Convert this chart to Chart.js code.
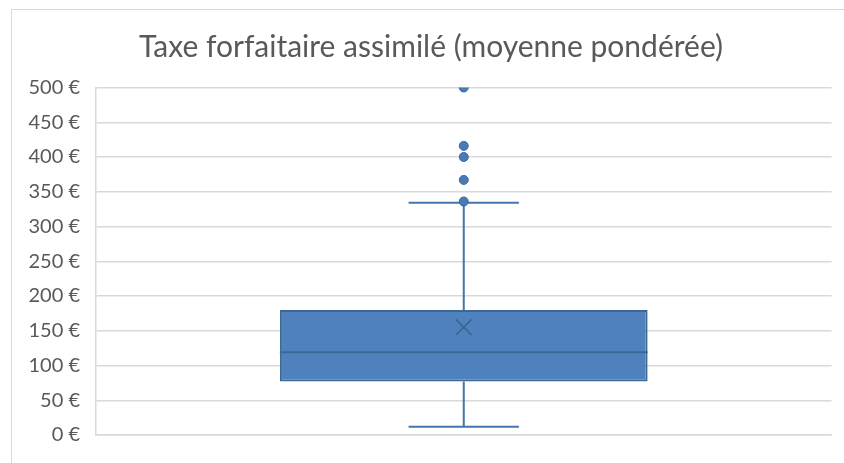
<!DOCTYPE html>
<html lang="fr">
<head>
  <meta charset="UTF-8" />
  <title>Taxe forfaitaire assimilé</title>
  <script src="https://cdn.jsdelivr.net/npm/chart.js"></script>
  <style>
    * { margin: 0; padding: 0; box-sizing: border-box; }
    body { background: white; width: 844px; height: 463px; overflow: hidden; }
    .wrap { position: relative; width: 844px; height: 463px; }
    .frame {
      position: absolute;
      left: 11px;
      top: 9px;
      width: 900px;
      height: 500px;
      border-top: 1px solid #d9d9d9;
      border-left: 1px solid #d9d9d9;
    }
    canvas { position: absolute; left: 0; top: 0; }
  </style>
</head>
<body>
  <div class="wrap">
    <div class="frame"></div>
    <canvas id="boxChart" width="844" height="463"></canvas>
  </div>

<script>
  // valeurs (en euros)
  const categories = ['Taxe forfaitaire'];
  const quartile1 = 77;
  const quartile3 = 180;
  const mediane = 119;
  const moyenne = 155;
  const moustacheBas = 12;
  const moustacheHaut = 334;
  const valeursAberrantes = [336, 367, 400, 416, 500];
  const yTicks = [0, 50, 100, 150, 200, 250, 300, 350, 400, 450, 500];

  const bleu = '#4f81bd';
  const bleuFonce = '#3c6898';

  // mediane + moustaches, dessinees juste apres la boite
  const boxExtras = {
    id: 'boxExtras',
    afterDatasetDraw(chart, args) {
      if (args.index !== 0) return;
      const bar = chart.getDatasetMeta(0).data[0];
      const y = chart.scales.y;
      const ctx = chart.ctx;
      const half = bar.width / 2;
      const cap = bar.width * 0.15;
      ctx.save();
      ctx.strokeStyle = bleuFonce;
      ctx.lineWidth = 2;
      ctx.beginPath();
      // mediane
      ctx.moveTo(bar.x - half, y.getPixelForValue(mediane));
      ctx.lineTo(bar.x + half, y.getPixelForValue(mediane));
      ctx.stroke();
      ctx.strokeStyle = '#4675ad';
      ctx.beginPath();
      // moustache haute
      ctx.moveTo(bar.x, y.getPixelForValue(quartile3));
      ctx.lineTo(bar.x, y.getPixelForValue(moustacheHaut));
      ctx.moveTo(bar.x - cap, y.getPixelForValue(moustacheHaut));
      ctx.lineTo(bar.x + cap, y.getPixelForValue(moustacheHaut));
      // moustache basse
      ctx.moveTo(bar.x, y.getPixelForValue(quartile1));
      ctx.lineTo(bar.x, y.getPixelForValue(moustacheBas));
      ctx.moveTo(bar.x - cap, y.getPixelForValue(moustacheBas));
      ctx.lineTo(bar.x + cap, y.getPixelForValue(moustacheBas));
      ctx.stroke();
      ctx.restore();
    }
  };

  const ctx = document.getElementById('boxChart').getContext('2d');
  new Chart(ctx, {
    type: 'bar',
    data: {
      labels: categories,
      datasets: [
        {
          // la boite (Q1 -> Q3), dessinee en premier
          type: 'bar',
          order: 3,
          data: [[quartile1, quartile3]],
          backgroundColor: bleu,
          borderColor: bleuFonce,
          borderWidth: 2,
          borderSkipped: false,
          barPercentage: 0.5,
          categoryPercentage: 1
        },
        {
          type: 'line',
          order: 2,
          data: valeursAberrantes.map(v => ({ x: categories[0], y: v })),
          showLine: false,
          pointRadius: 4.5,
          pointBackgroundColor: '#4a7ab6',
          pointBorderColor: bleuFonce,
          pointBorderWidth: 1
        },
        {
          type: 'line',
          order: 1,
          data: [{ x: categories[0], y: moyenne }],
          showLine: false,
          pointStyle: 'crossRot',
          pointRadius: 11,
          pointBackgroundColor: 'rgba(0,0,0,0)',
          pointBorderColor: '#38628f',
          pointBorderWidth: 1.5
        }
      ]
    },
    options: {
      responsive: false,
      animation: false,
      layout: { padding: { left: 24, right: 6, top: 0, bottom: 19 } },
      plugins: {
        legend: { display: false },
        tooltip: { enabled: false },
        title: {
          display: true,
          text: 'Taxe forfaitaire assimilé (moyenne pondérée)',
          color: '#595959',
          font: { family: 'Lato', size: 30, weight: 'normal', lineHeight: 1.2 },
          padding: { top: 29, bottom: 22.5 }
        }
      },
      scales: {
        x: {
          ticks: { display: false },
          grid: { display: false, drawTicks: false },
          border: { display: true, color: '#d9d9d9', width: 1.5 }
        },
        y: {
          min: 0,
          max: 500,
          afterBuildTicks(scale) {
            scale.ticks = yTicks.map(v => ({ value: v }));
          },
          afterFit(scale) {
            scale.width = 72;
          },
          ticks: {
            color: '#595959',
            font: { family: 'Lato', size: 20 },
            padding: 16,
            callback: v => v + ' €'
          },
          grid: { color: '#d9d9d9', lineWidth: 1.5, drawTicks: false },
          border: { display: true, color: '#d9d9d9', width: 1.5 }
        }
      }
    },
    plugins: [boxExtras]
  });
</script>
</body>
</html>
